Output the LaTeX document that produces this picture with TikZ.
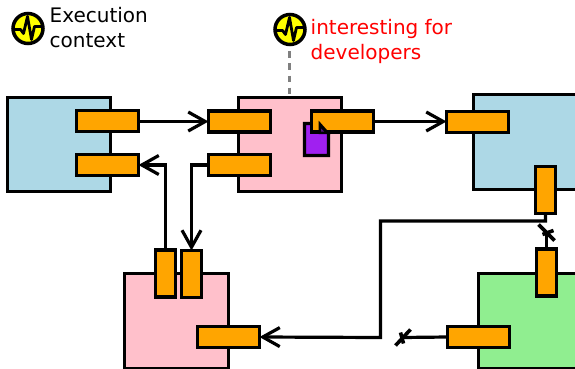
\documentclass[tikz,border=0pt]{standalone}
\usepackage{fontspec}
\setmainfont{DejaVu Sans}
\usetikzlibrary{arrows.meta}
\definecolor{portor}{HTML}{FFA500}
\definecolor{lblue}{HTML}{ADD8E6}
\definecolor{lpink}{HTML}{FFC0CB}
\definecolor{lgreen}{HTML}{90EE90}
\definecolor{docpur}{HTML}{A020F0}
\definecolor{iconyel}{HTML}{FFFF00}
\tikzset{
  block/.style={draw=black,line width=3.2pt,inner sep=0pt,outer sep=0pt},
  hport/.style={draw=black,fill=portor,line width=3.2pt,inner sep=0pt,outer sep=0pt,minimum width=62pt,minimum height=21pt},
  vport/.style={draw=black,fill=portor,line width=3.2pt,inner sep=0pt,outer sep=0pt,minimum width=20pt,minimum height=47pt},
  conn/.style={draw=black,line width=3.2pt,line join=miter},
  arr/.style={conn,-{Straight Barb[length=17pt,width=19pt,line width=3.2pt]}},
  lbl/.style={anchor=north west,align=left,font=\fontsize{20pt}{25pt}\selectfont,inner sep=0pt},
  iconc/.style={circle,draw=black,fill=iconyel,line width=3.5pt,minimum size=30pt,inner sep=0pt,outer sep=0pt},
  wave/.style={draw=black,line width=2.8pt,line join=round},
  xmark/.style={draw=black,line width=3.6pt}
}
\begin{document}
\begin{tikzpicture}[x=1pt,y=-1pt]
\useasboundingbox (-0.5,-0.5) rectangle (574.5,368.5);
\clip (-0.5,-0.5) rectangle (574.5,368.5);
% blocks
\path[block,fill=lblue] (7,97) rectangle (110,191);
\path[block,fill=lpink] (238,97) rectangle (341,191);
\path[block,fill=lblue] (473,94) rectangle (590,189);
\path[block,fill=lgreen] (478,273) rectangle (590,368);
\path[block,fill=lpink] (124,273) rectangle (228,368);
% document
\path[block,fill=docpur] (304,123) -- (319,123) -- (328,132) -- (328,155) -- (304,155) -- cycle;
% ports
\node[hport] (a1) at (107,120.5) {};
\node[hport] (a2) at (107,164.5) {};
\node[hport] (b1) at (239,121) {};
\node[hport] (b2) at (239,164.5) {};
\node[hport] (b3) at (342,121) {};
\node[hport] (c1) at (477,121.5) {};
\node[vport] (c2) at (545,189.5) {};
\node[vport] (d1) at (546,272) {};
\node[hport] (d2) at (478,336.5) {};
\node[vport] (e1) at (165,273) {};
\node[vport] (e2) at (191,273.5) {};
\node[hport] (e3) at (228,336.5) {};
% folded corner
\fill[black] (318,120) -- (318,133.5) -- (330,133.5) -- cycle;
\fill[docpur!50!black] (320.5,128) -- (320.5,131) -- (323.5,131) -- cycle;
% connectors
\coordinate (m1) at (546,232);
\coordinate (m2) at (402,337);
\draw[arr] (a1.east |- 0,121) -- (b1.west |- 0,121);
\draw[arr] (e1.north) -- (165,164.5) -- (a2.east);
\draw[arr] (b2.west) -- (191,164.5) -- (e2.north);
\draw[arr] (b3.east) -- (c1.west |- b3.east);
\draw[arr] (c2.south) -- (545,220.5) -- (380,220.5) -- (380,337) -- (e3.east);
\draw[conn] (d1.north) -- (m1);
\draw[conn] (d2.west) -- (m2);
\draw[xmark] (538,224) -- (554,240);
\draw[xmark] (542,234) -- (553,230);
\draw[xmark] (395,345) -- (410,329);
\draw[xmark] (400,332) -- (403,343);
% icons
\node[iconc] (i1) at (27.5,28) {};
\draw[wave] (13,29) -- (20,29) -- (23,33) -- (27,16) -- (31,39) -- (34,26) -- (42,26);
\node[iconc] (i2) at (289.5,29) {};
\draw[wave] (275,30) -- (282,30) -- (285,34) -- (289,17) -- (293,40) -- (296,27) -- (304,27);
\coordinate (tp) at (289,97);
\draw[draw=gray,line width=3.2pt,dash pattern=on 6.5pt off 5.5pt] (289,51) -- (tp);
% labels
\node[lbl] (t1) at (49,6.5) {Execution\\context};
\node[lbl,text=red] (t2) at (310,18.5) {interesting for\\developers};
\end{tikzpicture}
\end{document}
